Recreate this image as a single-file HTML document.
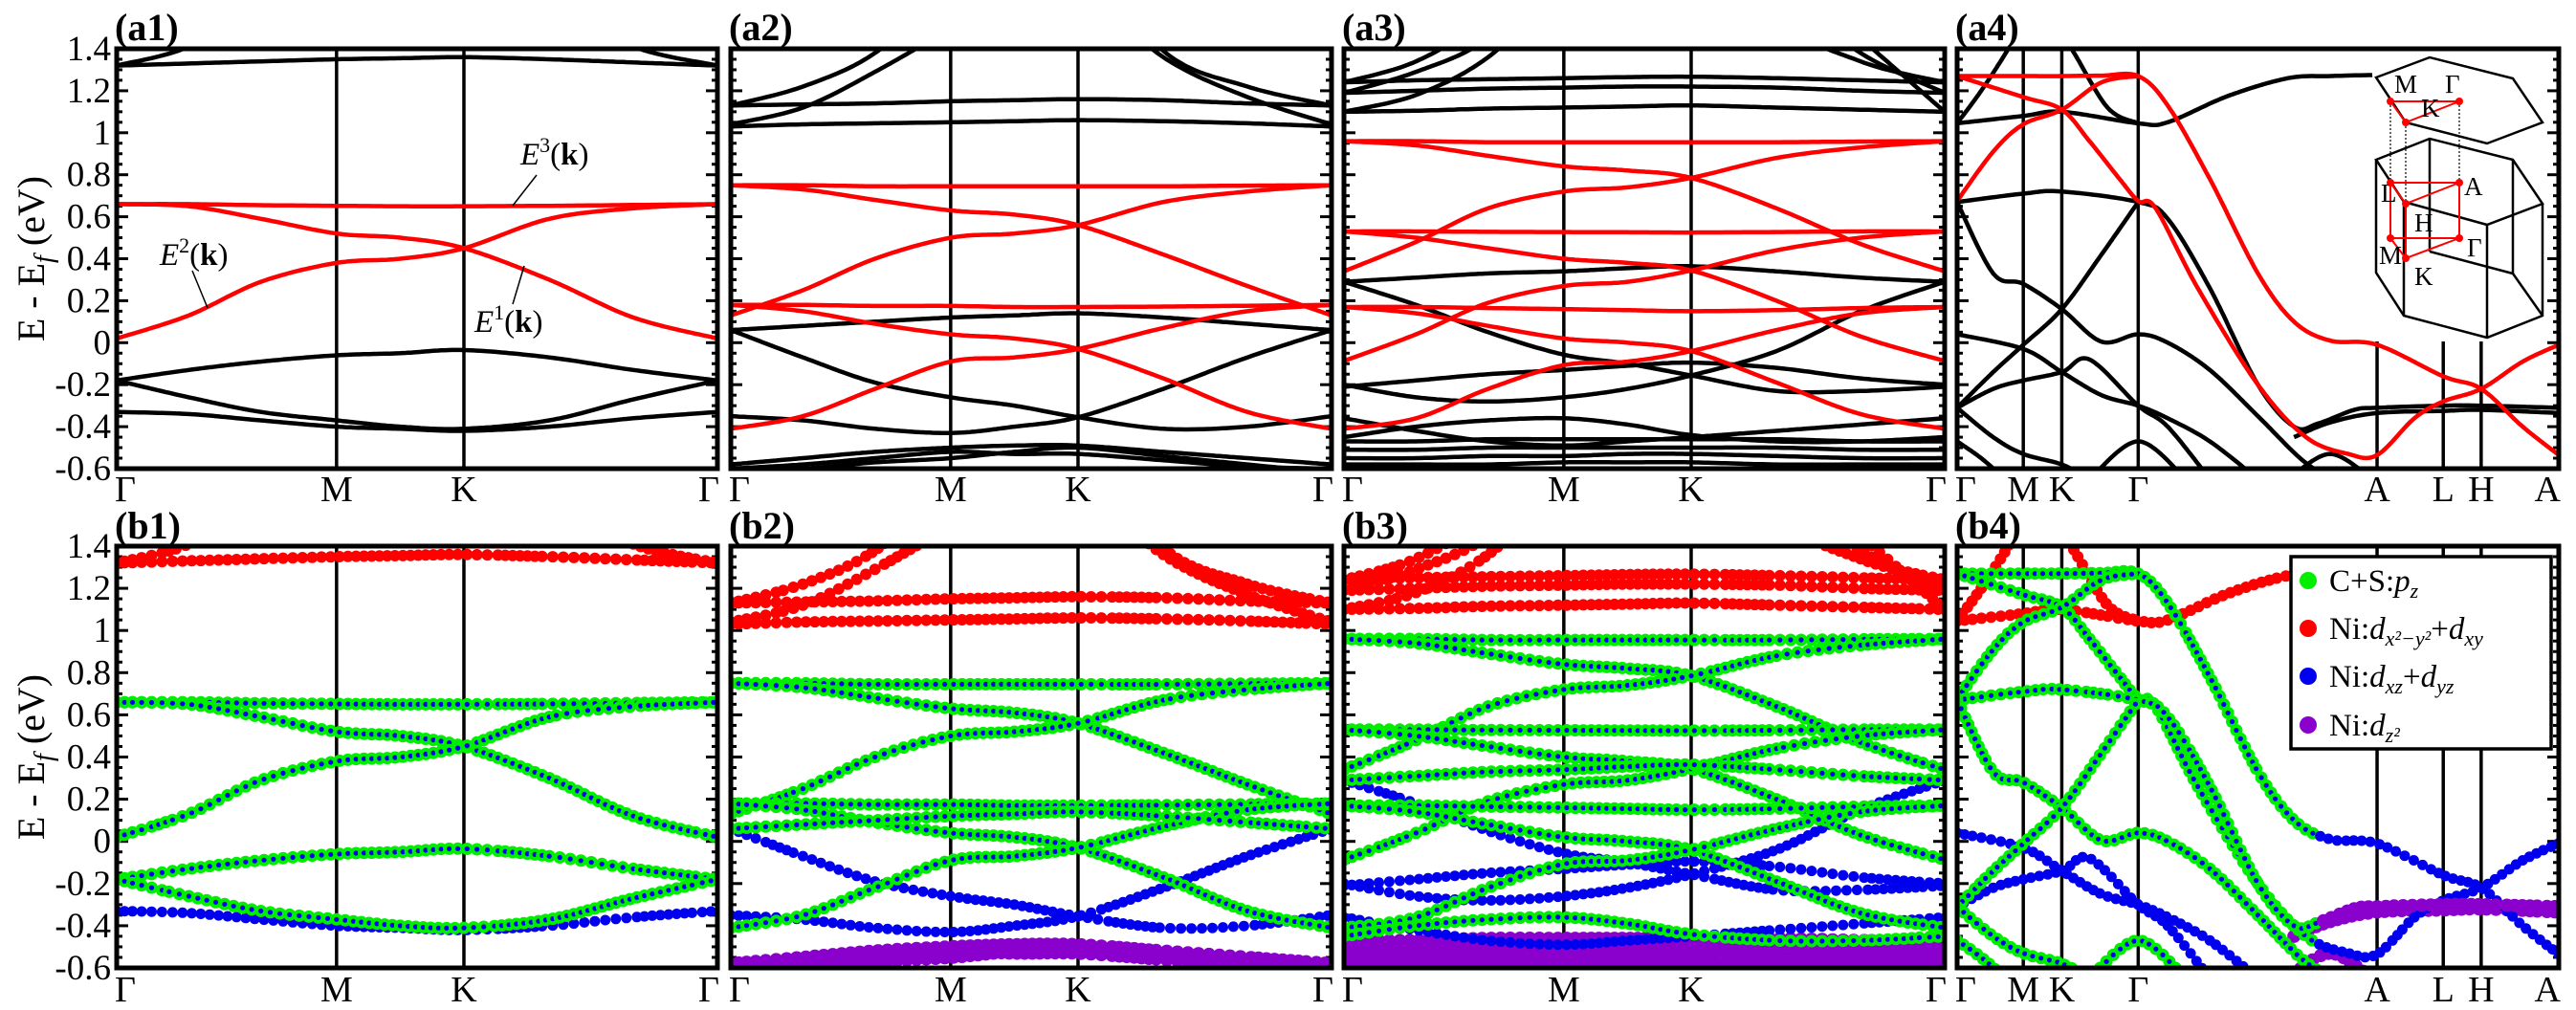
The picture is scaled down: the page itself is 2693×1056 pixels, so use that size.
<!DOCTYPE html>
<html><head><meta charset="utf-8"><style>
html,body{margin:0;padding:0;background:#fff;}
svg{display:block;}
</style></head>
<body>
<svg id="fig" width="2693" height="1056" viewBox="0 0 2693 1056" xmlns="http://www.w3.org/2000/svg" font-family="'Liberation Serif', serif">
<defs id="defs"></defs>
<g id="root" font-family="'Liberation Serif', serif"></g>
</svg>
<script>
// ---------- data ----------
const G = [0, 0.12, 0.24, 0.366, 0.472, 0.578, 0.72, 0.86, 1];
const yTicks = [1.4, 1.2, 1, 0.8, 0.6, 0.4, 0.2, 0, -0.2, -0.4, -0.6];
const yTickLabels = ["1.4","1.2","1","0.8","0.6","0.4","0.2","0","-0.2","-0.4","-0.6"];
const hsLabels = ["Γ","M","K","Γ"];
const hsK = [0, 0.366, 0.578, 1];
const a4Labels = ["Γ","M","K","Γ","A","L","H","A"];
const a4HsK = [0, 0.11, 0.174, 0.301, 0.698, 0.808, 0.871, 1];

const a1Bands = [
 [0.66,0.66,0.655,0.652,0.65,0.65,0.652,0.656,0.66],
 [0.66,0.65,0.59,0.52,0.50,0.45,0.30,0.12,0.02],
 [0.02,0.13,0.29,0.38,0.40,0.45,0.59,0.64,0.66],
 [1.32,1.33,1.34,1.35,1.355,1.36,1.35,1.335,1.32],
 [1.32,1.41,1.62,1.85,1.95,1.95,1.62,1.41,1.32],
 [-0.18,-0.13,-0.09,-0.06,-0.05,-0.035,-0.07,-0.13,-0.18],
 [-0.18,-0.26,-0.33,-0.37,-0.40,-0.41,-0.37,-0.27,-0.18],
 [-0.33,-0.34,-0.37,-0.40,-0.41,-0.42,-0.40,-0.36,-0.33]
];
const a1Colors = ["r","r","r","k","k","k","k","k"];
const b1Dots = ["g","g","g","r","r","g","g","b"];
const b1DotsRight = ["g","g","g","r","r","g","g","b"];

const a2Bands = [
 [0.75,0.75,0.745,0.745,0.745,0.745,0.745,0.748,0.75],
 [0.75,0.73,0.68,0.63,0.61,0.56,0.42,0.27,0.13],
 [0.13,0.25,0.40,0.50,0.52,0.56,0.67,0.72,0.75],
 [0.18,0.18,0.175,0.175,0.17,0.17,0.172,0.176,0.18],
 [0.18,0.15,0.09,0.04,0.02,-0.03,-0.17,-0.33,-0.41],
 [-0.41,-0.35,-0.22,-0.09,-0.07,-0.03,0.07,0.15,0.18],
 [1.13,1.135,1.14,1.15,1.155,1.16,1.155,1.14,1.13],
 [1.03,1.04,1.045,1.05,1.055,1.06,1.055,1.045,1.03],
 [1.13,1.22,1.38,1.7,1.9,1.9,1.39,1.22,1.13],
 [1.04,1.12,1.29,1.5,1.7,1.7,1.36,1.17,1.04],
 [0.06,0.08,0.10,0.12,0.13,0.14,0.12,0.09,0.06],
 [0.06,-0.07,-0.19,-0.26,-0.30,-0.355,-0.41,-0.40,-0.35],
 [-0.35,-0.37,-0.41,-0.43,-0.40,-0.355,-0.22,-0.07,0.06],
 [-0.58,-0.55,-0.52,-0.50,-0.49,-0.49,-0.52,-0.55,-0.58],
 [-0.60,-0.58,-0.55,-0.52,-0.53,-0.53,-0.56,-0.59,-0.60],
 [-0.62,-0.60,-0.57,-0.55,-0.52,-0.50,-0.54,-0.58,-0.62]
];
const a2Colors = ["r","r","r","r","r","r","k","k","k","k","k","k","k","k","k","k"];
const b2Dots = ["g","g","g","g","g","g","r","r","r","r","g","b","b","p","p","p"];
const b2DotsRight = ["g","g","g","g","g","g","r","r","r","r","g","b","b","p","p","p"];

const a3Bands = [
 [0.96,0.96,0.955,0.955,0.955,0.955,0.955,0.958,0.96],
 [0.96,0.94,0.89,0.84,0.82,0.785,0.64,0.47,0.34],
 [0.34,0.48,0.64,0.72,0.74,0.785,0.88,0.93,0.96],
 [0.53,0.53,0.528,0.527,0.526,0.525,0.527,0.53,0.53],
 [0.53,0.50,0.45,0.40,0.38,0.344,0.20,0.03,-0.087],
 [-0.087,0.04,0.19,0.27,0.29,0.344,0.44,0.50,0.53],
 [0.17,0.17,0.165,0.16,0.155,0.15,0.155,0.165,0.17],
 [0.17,0.14,0.08,0.02,0.0,-0.04,-0.19,-0.34,-0.41],
 [-0.41,-0.36,-0.22,-0.107,-0.09,-0.04,0.06,0.14,0.17],
 [1.24,1.25,1.255,1.26,1.265,1.267,1.26,1.25,1.24],
 [1.19,1.20,1.21,1.215,1.22,1.22,1.215,1.20,1.19],
 [1.10,1.105,1.115,1.12,1.125,1.13,1.12,1.11,1.10],
 [1.24,1.34,1.55,1.9,2.1,2.1,1.55,1.34,1.24],
 [1.19,1.29,1.45,1.8,2.0,2.0,1.7,1.38,1.19],
 [1.10,1.18,1.36,1.7,1.9,1.9,1.8,1.45,1.10],
 [0.29,0.31,0.33,0.34,0.355,0.364,0.34,0.31,0.29],
 [0.29,0.18,0.05,-0.057,-0.10,-0.156,-0.23,-0.23,-0.21],
 [-0.21,-0.18,-0.15,-0.13,-0.11,-0.095,-0.12,-0.17,-0.20],
 [-0.20,-0.26,-0.28,-0.26,-0.22,-0.156,-0.04,0.15,0.29],
 [-0.36,-0.42,-0.47,-0.49,-0.47,-0.45,-0.42,-0.39,-0.36],
 [-0.45,-0.40,-0.37,-0.36,-0.39,-0.44,-0.47,-0.47,-0.45],
 [-0.47,-0.47,-0.46,-0.46,-0.46,-0.46,-0.46,-0.47,-0.47],
 [-0.51,-0.51,-0.50,-0.50,-0.50,-0.50,-0.50,-0.51,-0.51],
 [-0.55,-0.55,-0.54,-0.54,-0.53,-0.53,-0.54,-0.55,-0.55],
 [-0.58,-0.58,-0.58,-0.57,-0.57,-0.57,-0.58,-0.58,-0.58]
];
const a3Colors = ["r","r","r","r","r","r","r","r","r","k","k","k","k","k","k","k","k","k","k","k","k","k","k","k","k"];
const b3Dots = ["g","g","g","g","g","g","g","g","g","r","r","r","r","r","r","g","b","b","b","b","g","p","p","p","p"];
const b3DotsRight = ["g","g","g","g","g","g","g","g","g","r","r","r","r","r","r","g","b","b","b","b","g","p","p","p","p"];

const a4K = [
 [0,0.11,0.174,0.24,0.301,0.35,0.42,0.5,0.56,0.62,0.698,0.808,0.871,0.94,1],
 [0,0.11,0.174,0.22,0.27,0.301,0.33,0.4,0.5,0.58,0.65,0.698,0.76,0.808,0.871,0.94,1],
 [0,0.06,0.11,0.174,0.24,0.301],
 [0,0.11,0.174,0.301,0.35,0.45,0.55,0.62,0.69],
 [0,0.11,0.174,0.301,0.35,0.42,0.5,0.56,0.6,0.66,0.698,0.808,0.871,1],
 [0.56,0.62,0.698,0.808,0.871,1],
 [0,0.06,0.11,0.174,0.24,0.301,0.35,0.42,0.5,0.57,0.62],
 [0,0.06,0.11,0.174,0.24,0.301],
 [0,0.11,0.174,0.24,0.301,0.35,0.42,0.5],
 [0,0.06,0.11,0.174,0.22,0.301,0.35,0.42],
 [0,0.06,0.11,0.174,0.22],
 [0.22,0.301,0.38],
 [0,0.04,0.08],
 [0,0.04,0.085,0.1],
 [0.16,0.19,0.25,0.301],
 [0.55,0.62,0.69]
];
const a4E = [
 [1.27,1.27,1.27,1.272,1.27,1.13,0.78,0.33,0.10,0.01,-0.01,-0.16,-0.22,-0.40,-0.535],
 [1.27,1.17,1.11,0.96,0.78,0.675,0.64,0.26,-0.2,-0.45,-0.53,-0.535,-0.36,-0.28,-0.22,-0.09,-0.01],
 [0.675,0.91,1.04,1.11,1.24,1.27],
 [1.045,1.08,1.10,1.045,1.05,1.175,1.26,1.27,1.275],
 [0.67,0.71,0.72,0.67,0.59,0.26,-0.2,-0.4,-0.385,-0.32,-0.31,-0.30,-0.30,-0.31],
 [-0.45,-0.38,-0.335,-0.325,-0.32,-0.335],
 [0.67,0.33,0.28,0.16,0.005,0.04,0.0,-0.13,-0.35,-0.55,-0.65],
 [-0.31,-0.14,-0.01,0.16,0.42,0.67],
 [0.04,-0.03,-0.14,-0.25,-0.30,-0.36,-0.47,-0.65],
 [-0.31,-0.22,-0.18,-0.14,-0.08,-0.30,-0.40,-0.65],
 [-0.31,-0.45,-0.53,-0.58,-0.65],
 [-0.65,-0.47,-0.65],
 [-0.47,-0.55,-0.65],
 [1.045,1.2,1.4,1.5],
 [1.5,1.4,1.12,1.045],
 [-0.65,-0.53,-0.65]
];
const a4Colors = ["r","r","r","k","k","k","k","k","k","k","k","k","k","k","k","k"];
const b4Dots =      ["g","g","g","r","g","p","g","g","b","b","g","g","g","r","r","p"];
const b4DotsRight = ["b","b","g","r","p","p","b","g","b","b","g","g","g","r","r","p"];
const b4Split = 0.6;

// ---------- layout ----------
const NS = "http://www.w3.org/2000/svg";
const root = document.getElementById("root");
const defs = document.getElementById("defs");
const px = [[122,750],[764,1392],[1405,2033],[2046,2675]];
const rows = [[51,490],[571,1012]];
function mk(tag, attrs, parent){ const e=document.createElementNS(NS,tag); for(const k in attrs) e.setAttribute(k,attrs[k]); (parent||root).appendChild(e); return e; }
function xS(p,f){ return px[p][0] + f*(px[p][1]-px[p][0]); }
function yS(r,E){ return rows[r][0] + (1.4-E)*(rows[r][1]-rows[r][0])/2.0; }

function smooth(pts){
  const out=[];
  for(let i=0;i<pts.length-1;i++){
    const p0=pts[Math.max(0,i-1)], p1=pts[i], p2=pts[i+1], p3=pts[Math.min(pts.length-1,i+2)];
    const n=24;
    for(let j=0;j<n;j++){
      const t=j/n,t2=t*t,t3=t2*t;
      const f=(a,b,c,d)=>0.5*((2*b)+(-a+c)*t+(2*a-5*b+4*c-d)*t2+(-a+3*b-3*c+d)*t3);
      out.push([f(p0[0],p1[0],p2[0],p3[0]), f(p0[1],p1[1],p2[1],p3[1])]);
    }
  }
  out.push(pts[pts.length-1]);
  return out;
}
function resample(pl, step){
  const out=[pl[0]]; let acc=0;
  for(let i=1;i<pl.length;i++){
    const dx=pl[i][0]-pl[i-1][0], dy=pl[i][1]-pl[i-1][1]; const d=Math.hypot(dx,dy);
    acc+=d; if(acc>=step){ out.push(pl[i]); acc=0; }
  }
  return out;
}

function panelFrame(p,r,hsk,labels,partial){
  const [x0,x1]=px[p], [y0,y1]=rows[r];
  const g=mk("g",{});
  
  
  for(let i=0;i<=40;i++){
    const E=-0.6+i*0.05, y=yS(r,E), L=(i%4===0)?12:6;
    mk("line",{x1:x0,y1:y,x2:x0+L,y2:y,stroke:"#000","stroke-width":3},g);
    mk("line",{x1:x1,y1:y,x2:x1-L,y2:y,stroke:"#000","stroke-width":3},g);
  }
  hsk.forEach((f,i)=>{
    if(f<=0||f>=1) return;
    let ys=y0;
    if(partial && partial(i)) ys=partial(i);
    const l=mk("line",{x1:xS(p,f),y1:ys,x2:xS(p,f),y2:y1,stroke:"#000","stroke-width":3.5},g);
    
    
  });
  labels.forEach((t,i)=>{
    const f=hsk[i];
    const anchor = f<=0 ? "start" : (f>=1 ? "end" : "middle");
    const tx=mk("text",{x:xS(p,f)+(f<=0?-2:(f>=1?2:0)),y:r===0?524:1047,"font-size":38,"text-anchor":anchor},g);
    tx.textContent=t;
    
    
  });
  return g;
}
function frameRect(p,r){
  const [x0,x1]=px[p], [y0,y1]=rows[r];
  const f=mk("rect",{x:x0,y:y0,width:x1-x0,height:y1-y0,fill:"none",stroke:"#000","stroke-width":5});
  
  
}
function clipFor(p,r){
  const id=`clip${p}${r}`;
  const c=mk("clipPath",{id},defs);
  mk("rect",{x:px[p][0],y:rows[r][0],width:px[p][1]-px[p][0],height:rows[r][1]-rows[r][0]},c);
  return `url(#${id})`;
}
const colMap={r:"#ff0000",k:"#000000"};
function drawLines(p,ks,es,cols){
  const g=mk("g",{"clip-path":clipFor(p,0)});
  
  
  const order=[...es.keys()].sort((a,b)=>(cols[a]==="r")-(cols[b]==="r"));
  order.forEach(i=>{
    const pts=es[i].map((E,j)=>[xS(p,ks[i][j]),yS(0,E)]);
    const pl=smooth(pts);
    const path=mk("polyline",{points:pl.map(q=>q[0].toFixed(1)+","+q[1].toFixed(1)).join(" "),fill:"none",stroke:colMap[cols[i]],"stroke-width":4.5,"stroke-linejoin":"round"},g);
    
    
  });
}
function dot(bg,s,q){
  const x=q[0].toFixed(1), y=q[1].toFixed(1);
  if(s==="g"){ mk("circle",{cx:x,cy:y,r:6.5,fill:"#00ee00"},bg); mk("circle",{cx:x,cy:y,r:2.6,fill:"#0000ee"},bg); }
  else if(s==="r"){ mk("circle",{cx:x,cy:y,r:6,fill:"#ff0000"},bg); }
  else if(s==="b"){ mk("circle",{cx:x,cy:y,r:5.5,fill:"#0000ee"},bg); }
  else { mk("circle",{cx:x,cy:y,r:7,fill:"#8a00cc"},bg); }
}
function drawDots(p,ks,es,stylesL,stylesR,split){
  const g=mk("g",{"clip-path":clipFor(p,1)});
  
  
  const w={p:0,b:1,r:2,g:3};
  const order=[...es.keys()].sort((a,b)=>w[stylesL[a]]-w[stylesL[b]]);
  const xs=xS(p,split);
  order.forEach(i=>{
    const pts=es[i].map((E,j)=>[xS(p,ks[i][j]),yS(1,E)]);
    const dots=resample(smooth(pts),7.5);
    const bg=mk("g",{},g);
    
    
    dots.forEach(q=>dot(bg, q[0]<xs?stylesL[i]:stylesR[i], q));
  });
}

const sets=[
 {ks:a1Bands.map(()=>G), es:a1Bands, cols:a1Colors, dl:b1Dots, dr:b1DotsRight, sp:2},
 {ks:a2Bands.map(()=>G), es:a2Bands, cols:a2Colors, dl:b2Dots, dr:b2DotsRight, sp:2},
 {ks:a3Bands.map(()=>G), es:a3Bands, cols:a3Colors, dl:b3Dots, dr:b3DotsRight, sp:2},
 {ks:a4K, es:a4E, cols:a4Colors, dl:b4Dots, dr:b4DotsRight, sp:b4Split}
];
sets.forEach((s,p)=>{
  const hk = p<3?hsK:a4HsK, lb = p<3?hsLabels:a4Labels;
  panelFrame(p,0,hk,lb, p===3 ? (i=>i>=4?357:null) : null);
  panelFrame(p,1,hk,lb,null);
  drawLines(p,s.ks,s.es,s.cols);
  drawDots(p,s.ks,s.es,s.dl,s.dr,s.sp);
  frameRect(p,0); frameRect(p,1);
  ["a","b"].forEach((L,r)=>{
    const t=mk("text",{x:px[p][0]-2,y:r===0?42:563,"font-size":40,"font-weight":"bold"});
    t.textContent=`(${L}${p+1})`;
    
    
  });
});

[0,1].forEach(r=>{
  yTicks.forEach((v,i)=>{
    const t=mk("text",{x:116,y:yS(r,v)+12,"font-size":37,"text-anchor":"end"});
    t.textContent=yTickLabels[i];
    
    
  });
  const cy=(rows[r][0]+rows[r][1])/2;
  const t=mk("text",{x:0,y:0,"font-size":40,"text-anchor":"middle",transform:`translate(46,${cy}) rotate(-90)`});
  t.innerHTML='E - E<tspan font-style="italic" font-size="28" dy="9">f</tspan><tspan dy="-9"> (eV)</tspan>';
  
  
});

const ann=mk("g",{});  
[[544,172,"3",561,183,536,215],[167,277,"2",201,283,217,322],[496,347,"1",548,278,536,318]].forEach(a=>{
  const t=mk("text",{x:a[0],y:a[1],"font-size":33},ann);
  t.innerHTML=`<tspan font-style="italic">E</tspan><tspan font-size="22" dy="-13">${a[2]}</tspan><tspan dy="13">(</tspan><tspan font-weight="bold">k</tspan>)`;
  mk("line",{x1:a[3],y1:a[4],x2:a[5],y2:a[6],stroke:"#000","stroke-width":1.5},ann);
});

const ins=mk("g",{fill:"none",stroke:"#000","stroke-width":2.5});
 
mk("polygon",{points:"2484,81 2540,60 2627,82 2658,128 2600,150 2515,128"},ins);
mk("polygon",{points:"2484,167 2540,145 2627,167 2658,213 2600,235 2513,211"},ins);
mk("polyline",{points:"2484,167 2484,285 2513,330 2600,353 2658,330 2658,213"},ins);
mk("line",{x1:2513,y1:211,x2:2513,y2:330},ins);
mk("line",{x1:2600,y1:235,x2:2600,y2:353},ins);
mk("line",{x1:2540,y1:145,x2:2540,y2:263},ins);
mk("line",{x1:2627,y1:167,x2:2627,y2:286},ins);
mk("polyline",{points:"2540,263 2627,286 2658,330"},ins);
const rg=mk("g",{stroke:"#ff0000","stroke-width":2,fill:"none"},ins);
mk("polygon",{points:"2499,106 2571,106 2515,128"},rg);
mk("polygon",{points:"2499,191 2571,191 2515,213"},rg);
mk("polygon",{points:"2499,249 2571,249 2515,270"},rg);
mk("line",{x1:2499,y1:191,x2:2499,y2:249},rg);
mk("line",{x1:2571,y1:191,x2:2571,y2:249},rg);
mk("line",{x1:2515,y1:213,x2:2515,y2:270},rg);
const dg=mk("g",{stroke:"#000","stroke-width":1.2,"stroke-dasharray":"2,2"},ins);
mk("line",{x1:2499,y1:106,x2:2499,y2:191},dg);
mk("line",{x1:2515,y1:128,x2:2515,y2:213},dg);
mk("line",{x1:2571,y1:106,x2:2571,y2:191},dg);
[[2499,106],[2571,106],[2515,128],[2499,191],[2571,191],[2515,213],[2499,249],[2571,249],[2515,270]].forEach(q=>mk("circle",{cx:q[0],cy:q[1],r:4,fill:"#ff0000",stroke:"none"},ins));
[[2503,97,"M"],[2556,97,"Γ"],[2531,122,"K"],[2489,211,"L"],[2576,204,"A"],[2524,242,"H"],[2487,276,"M"],[2579,268,"Γ"],[2524,298,"K"]].forEach(l=>{
  const t=mk("text",{x:l[0],y:l[1],"font-size":27,fill:"#000",stroke:"none"},ins); t.textContent=l[2];
});

const lg=mk("g",{});  
mk("rect",{x:2395,y:582,width:272,height:201,fill:"#fff",stroke:"#000","stroke-width":3.5},lg);
const legC=["#00ee00","#ff0000","#0000ee","#8a00cc"];
const legT=[
 'C+S:<tspan font-style="italic">p</tspan><tspan font-style="italic" font-size="22" dy="7">z</tspan>',
 'Ni:<tspan font-style="italic">d</tspan><tspan font-style="italic" font-size="22" dy="7">x²−y²</tspan><tspan dy="-7">+</tspan><tspan font-style="italic">d</tspan><tspan font-style="italic" font-size="22" dy="7">xy</tspan>',
 'Ni:<tspan font-style="italic">d</tspan><tspan font-style="italic" font-size="22" dy="7">xz</tspan><tspan dy="-7">+</tspan><tspan font-style="italic">d</tspan><tspan font-style="italic" font-size="22" dy="7">yz</tspan>',
 'Ni:<tspan font-style="italic">d</tspan><tspan font-style="italic" font-size="22" dy="7">z²</tspan>'
];
[607,657,707,758].forEach((y,i)=>{
  const c=mk("circle",{cx:2413,cy:y,r:9,fill:legC[i]},lg);
   
  const t=mk("text",{x:2435,y:y+11,"font-size":33},lg);
  t.innerHTML=legT[i];
   
});
</script>
</body></html>
